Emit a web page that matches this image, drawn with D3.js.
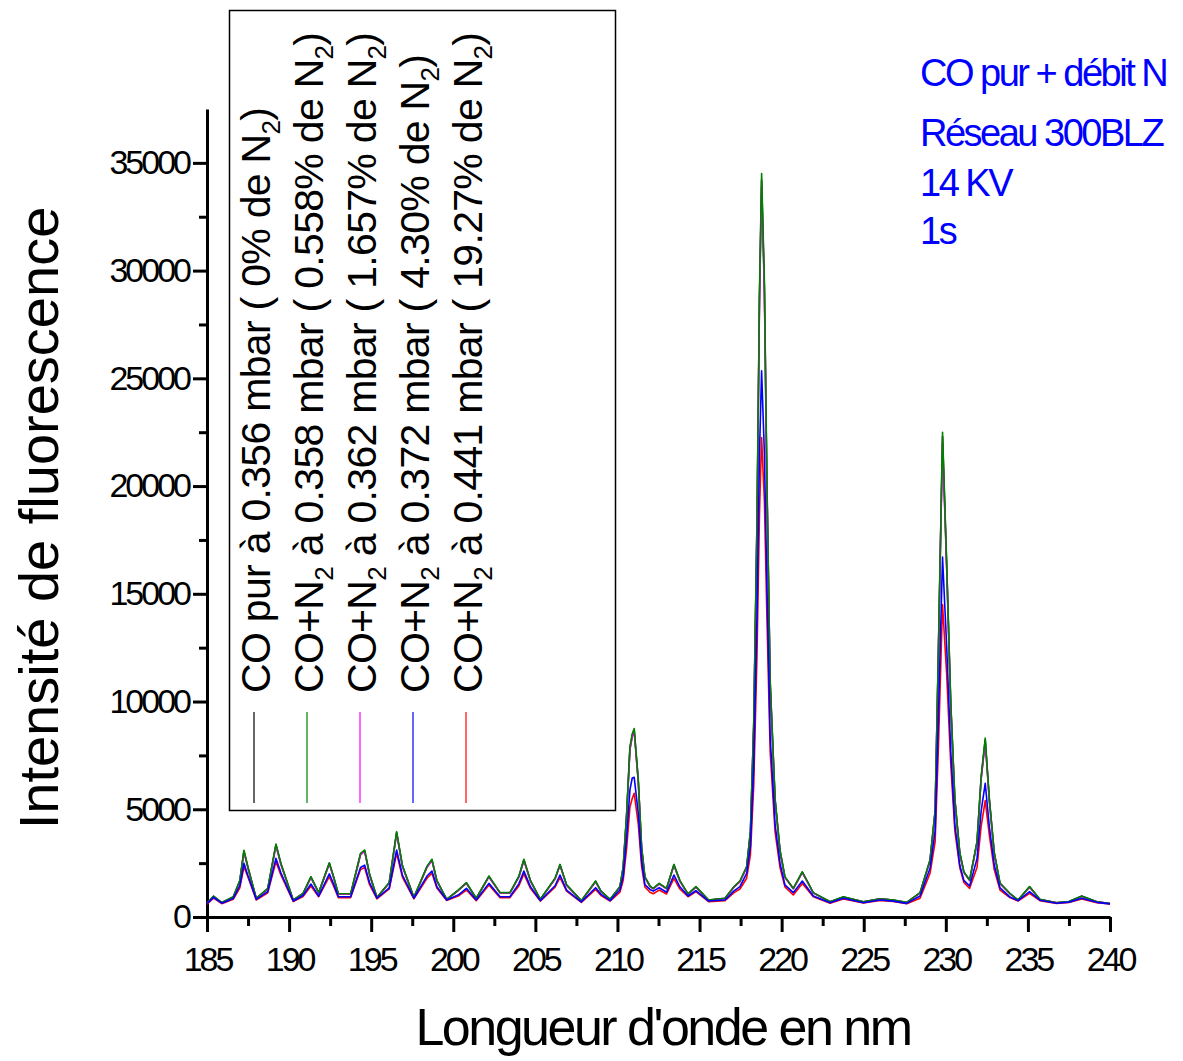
<!DOCTYPE html>
<html>
<head>
<meta charset="utf-8">
<script src="https://cdn.jsdelivr.net/npm/d3@7"></script>
<style>
  body { margin: 0; background: #fff; }
  text { font-family: "Liberation Sans", Arial, sans-serif; fill: #000; }
  .axis path, .axis line { stroke: #000; stroke-width: 3; }
  .axis text { font-size: 34px; letter-spacing: -3px; font-family: "Liberation Sans", Arial, sans-serif; }
  .series { fill: none; stroke-width: 1.6; stroke-linejoin: round; }
</style>
</head>
<body>
<svg id="chart"></svg>
<script>
// wavelength (nm) of each sample
const wavelengths = [
  185.0, 185.4, 185.9, 186.6, 187.0, 187.25, 187.5, 188.0, 188.7, 189.2,
  189.5, 190.25, 190.85, 191.33, 191.8, 192.45, 192.7, 193.0, 193.75, 194.35,
  194.6, 194.9, 195.35, 196.1, 196.55, 196.9, 197.6, 198.4, 198.7, 199.0,
  199.6, 200.3, 200.8, 201.4, 202.17, 202.85, 203.45, 204.0, 204.3, 204.7,
  205.3, 206.2, 206.5, 206.9, 207.8, 208.67, 209.0, 209.55, 210.15, 210.35,
  210.56, 210.76, 210.9, 211.02, 211.27, 211.47, 211.67, 211.98, 212.18, 212.54,
  212.99, 213.44, 213.8, 214.3, 214.78, 215.55, 216.55, 217.1, 217.46, 217.87,
  218.1, 218.3, 218.5, 218.65, 218.78, 218.95, 219.1, 219.3, 219.6, 219.9,
  220.2, 220.71, 221.26, 221.93, 222.95, 223.76, 224.98, 226.0, 226.8, 227.62,
  228.43, 229.04, 229.35, 229.55, 229.8, 230.05, 230.3, 230.55, 230.85, 231.1,
  231.45, 231.9, 232.15, 232.4, 232.65, 232.95, 233.3, 233.9, 234.4, 235.1,
  235.73, 236.75, 237.5, 238.28, 239.2, 240.0
];

// CO pur, 0% N2 (black)
const coPur = [
  635, 960, 665, 930, 1680, 3060, 2280, 860, 1310, 3350,
  2470, 785, 1090, 1850, 1120, 2490, 1880, 1070, 1070, 2920,
  3080, 1980, 905, 1590, 3920, 2380, 905, 2330, 2650, 1680,
  815, 1240, 1580, 865, 1880, 1120, 1120, 1880, 2650, 1680,
  815, 1780, 2420, 1490, 755, 1650, 1190, 815, 1400, 2310,
  4770, 7820, 8420, 8680, 6300, 3230, 1850, 1420, 1320, 1550,
  1320, 2420, 1680, 1060, 1400, 785, 865, 1400, 1650, 2320,
  3950, 8900, 18300, 28700, 34200, 29200, 20300, 10900, 5450, 3080,
  1850, 1320, 2080, 1120, 705, 930, 705, 845, 785, 675,
  1120, 2640, 4910, 12400, 22300, 16350, 9900, 5450, 2970, 2080,
  1700, 3470, 6430, 8220, 5450, 2970, 1560, 1090, 785, 1400,
  815, 662, 715, 965, 705, 628
];

// CO+N2, 0.558% N2 (green)
const n2_0558 = [
  640, 970, 670, 940, 1700, 3100, 2300, 870, 1330, 3390,
  2500, 790, 1100, 1870, 1130, 2520, 1900, 1080, 1080, 2950,
  3110, 2000, 910, 1600, 3960, 2400, 910, 2350, 2680, 1700,
  820, 1250, 1590, 870, 1900, 1130, 1130, 1900, 2680, 1700,
  820, 1800, 2440, 1500, 760, 1670, 1200, 820, 1410, 2330,
  4820, 7900, 8500, 8750, 6350, 3260, 1870, 1450, 1330, 1560,
  1330, 2440, 1700, 1070, 1410, 790, 870, 1410, 1670, 2340,
  4000, 9000, 18500, 29000, 34500, 29500, 20500, 11000, 5500, 3110,
  1870, 1330, 2100, 1130, 710, 940, 710, 850, 790, 680,
  1130, 2660, 4960, 12500, 22500, 16500, 10000, 5500, 3000, 2100,
  1720, 3500, 6500, 8300, 5500, 3000, 1580, 1100, 790, 1410,
  820, 665, 720, 975, 710, 630
];

// CO+N2, 1.657% N2 (magenta)
const n2_1657 = [
  630, 950, 660, 920, 1660, 3020, 2250, 850, 1300, 3300,
  2440, 780, 1080, 1830, 1110, 2460, 1860, 1060, 1060, 2880,
  3040, 1960, 900, 1570, 3870, 2350, 900, 2300, 2620, 1660,
  810, 1230, 1560, 860, 1860, 1110, 1110, 1860, 2620, 1660,
  810, 1760, 2390, 1470, 750, 1630, 1180, 810, 1380, 2280,
  4720, 7750, 8350, 8600, 6230, 3200, 1830, 1420, 1310, 1530,
  1310, 2390, 1660, 1050, 1380, 780, 860, 1380, 1630, 2290,
  3900, 8800, 18100, 28400, 33900, 28900, 20100, 10800, 5400, 3050,
  1830, 1310, 2060, 1110, 700, 920, 700, 840, 780, 670,
  1110, 2610, 4860, 12300, 22000, 16200, 9800, 5400, 2940, 2060,
  1690, 3430, 6370, 8130, 5390, 2940, 1550, 1080, 780, 1380,
  810, 660, 710, 960, 700, 625
];

// CO+N2, 4.30% N2 (blue)
const n2_430 = [
  620, 910, 640, 860, 1450, 2490, 1900, 820, 1180, 2720,
  2050, 740, 1000, 1530, 970, 2000, 1550, 940, 940, 2300,
  2410, 1600, 870, 1350, 3110, 1950, 870, 1900, 2130, 1400,
  790, 1020, 1330, 790, 1560, 940, 940, 1550, 2130, 1400,
  760, 1450, 1950, 1250, 700, 1360, 1050, 760, 1250, 1900,
  3700, 5900, 6450, 6480, 4800, 2600, 1500, 1280, 1200, 1360,
  1150, 1950, 1400, 975, 1220, 740, 790, 1210, 1410, 2020,
  3300, 7000, 14000, 21500, 25350, 21500, 15500, 8400, 4300, 2500,
  1490, 1130, 1670, 975, 665, 870, 665, 790, 735, 634,
  975, 2260, 4000, 9300, 16700, 12600, 7700, 4300, 2400, 1700,
  1440, 2700, 4900, 6200, 4200, 2400, 1350, 930, 760, 1180,
  780, 640, 690, 870, 680, 610
];

// CO+N2, 19.27% N2 (red)
const n2_1927 = [
  600, 880, 620, 820, 1350, 2330, 1850, 790, 1120, 2570,
  1950, 720, 950, 1440, 940, 1870, 1450, 900, 900, 2200,
  2300, 1500, 840, 1300, 2960, 1850, 840, 1800, 2030, 1350,
  770, 970, 1250, 760, 1490, 900, 900, 1450, 2000, 1330,
  740, 1380, 1840, 1200, 680, 1280, 1000, 740, 1150, 1700,
  3200, 5100, 5500, 5740, 4300, 2350, 1400, 1150, 1080, 1250,
  1070, 1790, 1300, 940, 1180, 710, 760, 1130, 1300, 1800,
  2900, 6100, 12200, 18700, 22250, 19300, 14000, 7700, 3950, 2300,
  1400, 1020, 1560, 940, 640, 840, 650, 770, 720, 620,
  870, 2030, 3500, 7900, 14500, 11300, 7100, 4000, 2300, 1600,
  1330, 2300, 4200, 5400, 3800, 2200, 1250, 900, 740, 1100,
  760, 630, 670, 840, 660, 600
];

const seriesColors = ['#000000', '#ff00ff', '#008000', '#ff0000', '#0000ff'];
const legendColors = ['#000000', '#008000', '#ff00ff', '#0000ff', '#ff0000'];
const legendLabels = [
  'CO pur à 0.356 mbar ( 0% de N_2)',
  'CO+N_2 à 0.358 mbar ( 0.558% de N_2)',
  'CO+N_2 à 0.362 mbar ( 1.657% de N_2)',
  'CO+N_2 à 0.372 mbar ( 4.30% de N_2)',
  'CO+N_2 à 0.441 mbar ( 19.27% de N_2)'
];
const notes = ['CO pur + débit N', 'Réseau 300BLZ', '14 KV', '1s'];

const xMajor = d3.range(185, 241, 5);
const xMinor = d3.range(187.5, 240, 5);
const yMajor = d3.range(0, 35001, 5000);
const yMinor = d3.range(2500, 35000, 5000);

const width = 1183,
  height = 1061;

const svg = d3.select('#chart')
  .attr('width', width)
  .attr('height', height);

const x = d3.scaleLinear().domain([185, 240]).range([207, 1110]);
const y = d3.scaleLinear().domain([0, 37500]).range([917, 109]);

// minor ticks first, major axes on top
svg.append('g')
  .attr('class', 'axis')
  .attr('transform', 'translate(0,917)')
  .call(d3.axisBottom(x).tickValues(xMinor).tickSize(9).tickFormat(''))
  .call(g => g.select('.domain').remove());
svg.append('g')
  .attr('class', 'axis')
  .attr('transform', 'translate(207,0)')
  .call(d3.axisLeft(y).tickValues(yMinor).tickSize(8).tickFormat(''))
  .call(g => g.select('.domain').remove());

svg.append('g')
  .attr('class', 'axis')
  .attr('transform', 'translate(0,917)')
  .call(d3.axisBottom(x).tickValues(xMajor).tickSize(15).tickSizeOuter(0).tickPadding(15).tickFormat(d3.format('d')));
svg.append('g')
  .attr('class', 'axis')
  .attr('transform', 'translate(207,0)')
  .call(d3.axisLeft(y).tickValues(yMajor).tickSize(14).tickSizeOuter(0).tickPadding(4).tickFormat(d3.format('d')));

// spectra, in drawing order
const allSeries = [coPur, n2_1657, n2_0558, n2_1927, n2_430];
const line = d3.line()
  .x((_, i) => x(wavelengths[i]))
  .y(d => y(d));

svg.append('g')
  .selectAll('path')
  .data(allSeries)
  .join('path')
  .attr('class', 'series')
  .attr('stroke', (_, i) => seriesColors[i])
  .attr('d', line);

// axis titles
svg.append('text')
  .attr('x', 663)
  .attr('y', 1045)
  .attr('text-anchor', 'middle')
  .style('font-size', '52px')
  .style('letter-spacing', '-2.5px')
  .text("Longueur d'onde en nm");

svg.append('text')
  .attr('transform', 'translate(58,518) rotate(-90)')
  .attr('text-anchor', 'middle')
  .style('font-size', '56px')
  .text('Intensité de fluorescence');

// legend
const legend = svg.append('g');
legend.append('rect')
  .attr('x', 229.5)
  .attr('y', 10.5)
  .attr('width', 386)
  .attr('height', 800)
  .attr('fill', 'none')
  .attr('stroke', '#000')
  .attr('stroke-width', 1.5);

legendLabels.forEach((label, i) => {
  const bx = 270 + i * 53;
  legend.append('line')
    .attr('x1', bx - 16).attr('x2', bx - 16)
    .attr('y1', 712).attr('y2', 803)
    .attr('stroke', legendColors[i])
    .attr('stroke-width', 1.2);

  const t = legend.append('text')
    .attr('transform', `translate(${bx},693) rotate(-90)`)
    .style('font-size', '41px')
    .style('letter-spacing', '-0.7px');
  const parts = label.split('_2');
  parts.forEach((p, j) => {
    t.append('tspan').attr('dy', j === 0 ? 0 : -10).text(p);
    if (j < parts.length - 1) {
      t.append('tspan').attr('dy', 10).style('font-size', '26px').text('2');
    }
  });
});

// blue notes, top right
svg.append('g')
  .selectAll('text')
  .data(notes)
  .join('text')
  .attr('x', 920)
  .attr('y', (_, i) => [86, 146, 196, 244][i])
  .style('font-size', '38px')
  .style('letter-spacing', '-2.5px')
  .style('fill', '#0000ff')
  .text(d => d);
</script>
</body>
</html>
